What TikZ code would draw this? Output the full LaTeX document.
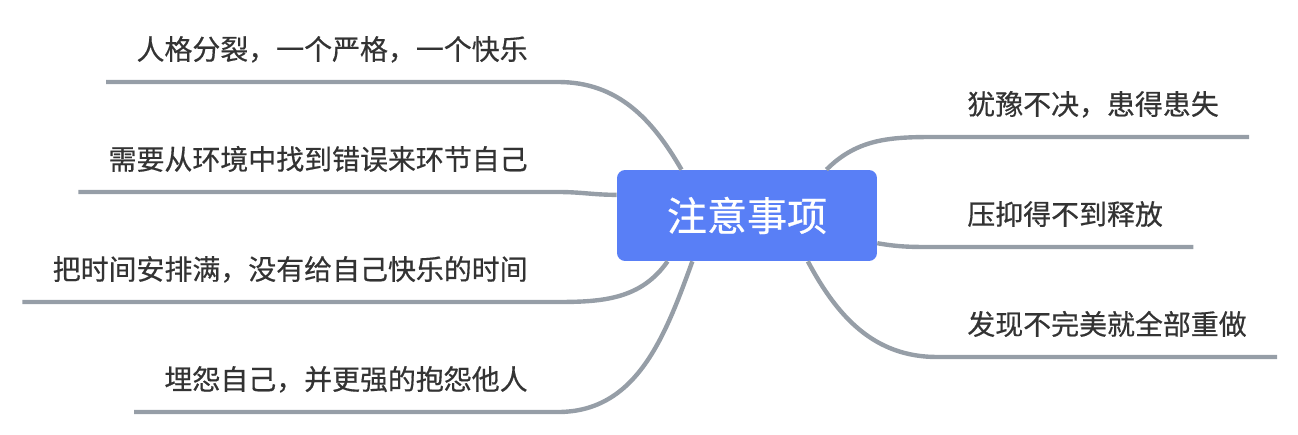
\documentclass[tikz,border=0pt]{standalone}
\usepackage{fontspec}
\setmainfont{Noto Sans CJK SC}[FakeBold=0.5]
\usepackage{color}
\definecolor{topicblue}{RGB}{89,127,246}
\definecolor{branchgray}{RGB}{150,158,167}
\definecolor{leafgray}{RGB}{51,51,51}
\usepackage{tikz}
\usetikzlibrary{positioning}
\tikzstyle{topic}=[fill=topicblue,text=white,rounded corners=0.16cm,minimum width=5.2cm,minimum height=1.82cm,font=\fontsize{22.8}{26}\selectfont]
\tikzstyle{subtopic}=[text=leafgray,font=\fontsize{15.9}{19}\selectfont,inner xsep=0.6cm,inner ysep=0.44cm,text depth=0pt]
\tikzstyle{branch}=[draw=branchgray,line width=2.5pt]

\begin{document}
\begin{tikzpicture}[x=0.02cm,y=0.02cm]
\useasboundingbox (0,0) rectangle (1298,-435);
\node [topic] (root) at (747,-215.5) {注意事项};
% left side
\node [subtopic,anchor=south east] (l1) at (558,-82) {人格分裂，一个严格，一个快乐};
\node [subtopic,anchor=south east] (l2) at (558,-192) {需要从环境中找到错误来环节自己};
\node [subtopic,anchor=south east] (l3) at (558,-302) {把时间安排满，没有给自己快乐的时间};
\node [subtopic,anchor=south east] (l4) at (558,-412) {埋怨自己，并更强的抱怨他人};
% right side
\node [subtopic,anchor=south west] (r1) at (937,-137) {犹豫不决，患得患失};
\node [subtopic,anchor=south west] (r2) at (937,-247) {压抑得不到释放};
\node [subtopic,anchor=south west] (r3) at (937,-357) {发现不完美就全部重做};
% branches
\draw [branch] (root.145) to[out=120,in=0] (l1.south east) -- (l1.south west);
\draw [branch] (root.171) to[out=180,in=0] (l2.south east) -- (l2.south west);
\draw [branch] (root.210.6) to[out=235,in=0] (l3.south east) -- (l3.south west);
\draw [branch] (root.220) to[out=250,in=0] (l4.south east) -- (l4.south west);
\draw [branch] (root.30) to[out=45,in=180] (r1.south west) -- (r1.south east);
\draw [branch] (root.-12) to[out=-10,in=180] (r2.south west) -- (r2.south east);
\draw [branch] (root.-37) to[out=-62,in=180] (r3.south west) -- (r3.south east);
\end{tikzpicture}
\end{document}
